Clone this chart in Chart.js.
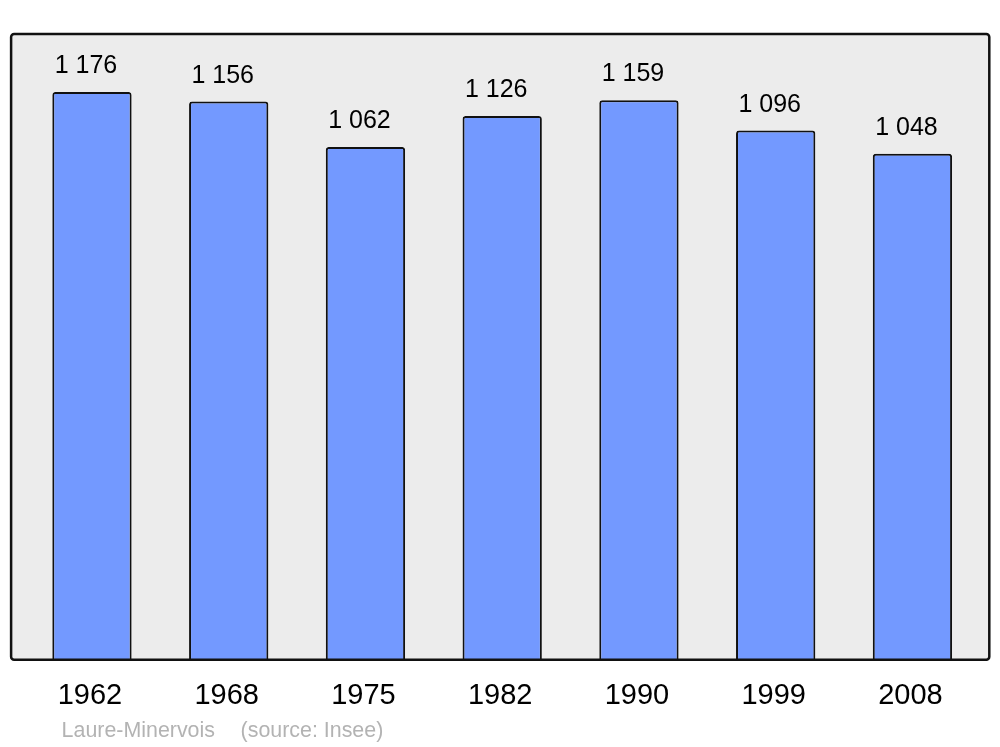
<!DOCTYPE html>
<html lang="fr">
<head>
    <meta charset="UTF-8">
    <title>Laure-Minervois</title>
    <script src="https://cdn.jsdelivr.net/npm/chart.js"></script>
    <style>
        body { margin: 0; background: #ffffff; }
        #wrap { width: 1000px; height: 747px; }
    </style>
</head>
<body>
    <div id="wrap"><canvas id="popChart"></canvas></div>
    <script>
        // Données
        const annees = ['1962', '1968', '1975', '1982', '1990', '1999', '2008'];
        const population = [1176, 1156, 1062, 1126, 1159, 1096, 1048];
        const etiquettes = ['1 176', '1 156', '1 062', '1 126', '1 159', '1 096', '1 048'];

        // cadre gris derrière les barres
        const cadre = {
            id: 'cadre',
            beforeDatasetsDraw(chart) {
                const a = chart.chartArea;
                const ctx = chart.ctx;
                ctx.save();
                ctx.beginPath();
                ctx.roundRect(a.left - 12.5, a.top, a.right - a.left + 21, a.bottom - a.top, 3);
                ctx.fillStyle = '#ececec';
                ctx.fill();
                ctx.restore();
            },
            afterDatasetsDraw(chart) {
                const a = chart.chartArea;
                const ctx = chart.ctx;
                ctx.save();
                ctx.beginPath();
                ctx.roundRect(a.left - 12.5, a.top, a.right - a.left + 21, a.bottom - a.top, 3);
                ctx.lineWidth = 2.5;
                ctx.strokeStyle = '#111111';
                ctx.stroke();

                // valeurs au-dessus des barres
                ctx.font = '25px "Liberation Sans", Arial, sans-serif';
                ctx.fillStyle = '#000000';
                ctx.textAlign = 'center';
                ctx.textBaseline = 'alphabetic';
                chart.getDatasetMeta(0).data.forEach((bar, i) => {
                    ctx.fillText(etiquettes[i], bar.x - 6, bar.y - 19);
                });

                // source
                ctx.font = '21.4px "Liberation Sans", Arial, sans-serif';
                ctx.fillStyle = '#b3b3b3';
                ctx.textAlign = 'left';
                ctx.fillText('Laure-Minervois', a.left + 38, 737);
                ctx.fillText('(source: Insee)', a.left + 217, 737);
                ctx.restore();
            }
        };

        const ctx = document.getElementById('popChart').getContext('2d');
        new Chart(ctx, {
            type: 'bar',
            data: {
                labels: annees,
                datasets: [{
                    data: population,
                    backgroundColor: '#7399ff',
                    borderColor: '#111111',
                    borderWidth: 2,
                    borderSkipped: 'bottom',
                    borderRadius: { topLeft: 3, topRight: 3 },
                    barPercentage: 0.58,
                    categoryPercentage: 1
                }]
            },
            options: {
                responsive: true,
                maintainAspectRatio: false,
                animation: false,
                layout: { padding: { left: 23.6, right: 19.2, top: 34, bottom: 14.4 } },
                plugins: {
                    legend: { display: false },
                    tooltip: { enabled: false }
                },
                scales: {
                    x: {
                        grid: { display: false, drawTicks: false },
                        border: { display: false },
                        ticks: {
                            padding: 19,
                            labelOffset: -2,
                            color: '#000000',
                            font: { family: '"Liberation Sans", Arial, sans-serif', size: 29 }
                        }
                    },
                    y: {
                        display: false,
                        min: 0,
                        max: 1296
                    }
                }
            },
            plugins: [cadre]
        });
    </script>
</body>
</html>
